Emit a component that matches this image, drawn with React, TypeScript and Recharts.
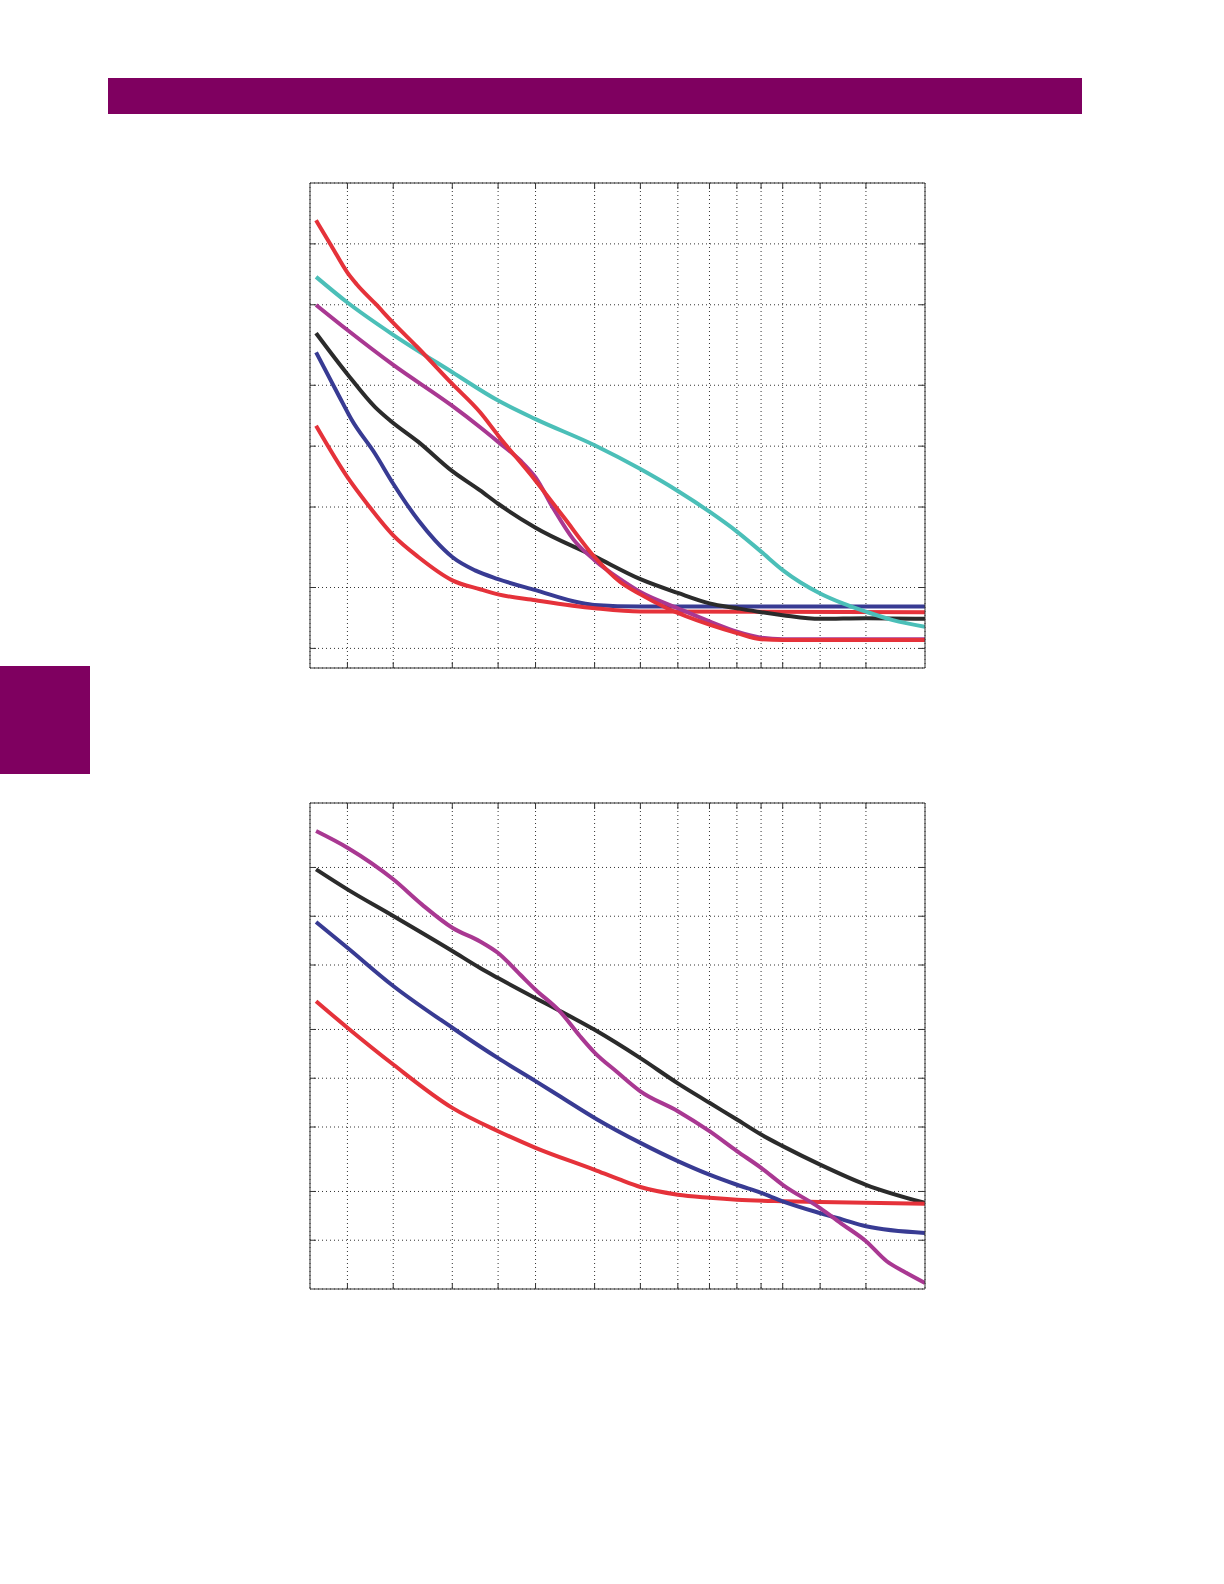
import { LineChart, Line, XAxis, YAxis, CartesianGrid } from 'recharts';

// harmonic-order style log axis shared by both panels
const X_DOMAIN = [1, 20];
const X_TICKS = [1.2, 1.5, 2, 2.5, 3, 4, 5, 6, 7, 8, 9, 10, 12, 15];

const TOP_Y_DOMAIN = [0.8, 200];
const TOP_Y_TICKS = [1, 2, 5, 10, 20, 50, 100];
const BOTTOM_Y_DOMAIN = [0.5, 500];
const BOTTOM_Y_TICKS = [1, 2, 5, 10, 20, 50, 100, 200];

// upper panel
const topBlue = [
  [1.03, 29.1], [1.15, 17.8], [1.225, 13.5], [1.373, 9.17], [1.5, 6.52], [1.695, 4.3], [1.839, 3.42],
  [2, 2.83], [2.234, 2.43], [2.5, 2.2], [3, 1.94], [3.73, 1.68], [4, 1.64], [5, 1.61], [20, 1.61],
];
const topRedLow = [
  [1.03, 12.6], [1.2, 7.02], [1.329, 5.09], [1.5, 3.62], [1.695, 2.83], [2, 2.17], [2.29, 1.96],
  [2.5, 1.85], [3, 1.73], [4, 1.58], [5, 1.52], [20, 1.51],
];
const topBlack = [
  [1.03, 36.2], [1.2, 22.7], [1.373, 15.6], [1.477, 13.4], [1.695, 10.5], [2, 7.52], [2.29, 6.04],
  [2.5, 5.19], [3, 3.95], [4, 2.85], [5, 2.2], [6, 1.88], [7, 1.67], [8, 1.58], [9, 1.51], [10, 1.46],
  [12, 1.4], [15, 1.41], [20, 1.4],
];
const topCyan = [
  [1.03, 68.7], [1.2, 51.3], [1.5, 35.5], [2, 23.2], [2.5, 16.8], [3, 13.6], [4, 10.1], [5, 7.7],
  [6, 6.0], [7, 4.74], [8, 3.78], [9, 3.01], [10, 2.44], [12, 1.87], [13.4, 1.67], [15, 1.52],
  [17.1, 1.38], [20, 1.28],
];
const topMagenta = [
  [1.03, 49.9], [1.2, 37.5], [1.5, 25.2], [2, 15.8], [2.29, 12.4], [2.5, 10.5], [2.786, 8.49],
  [3, 7.0], [3.275, 4.9], [3.61, 3.45], [4, 2.73], [4.53, 2.2], [5, 1.9], [6, 1.58], [7, 1.36],
  [8, 1.21], [9, 1.13], [10, 1.11], [20, 1.11],
];
const topRedHigh = [
  [1.03, 130.8], [1.11, 97.7], [1.2, 72.1], [1.255, 63.2], [1.375, 50.6], [1.5, 40.7], [1.684, 31.0],
  [2, 20.3], [2.29, 14.7], [2.5, 11.3], [3, 6.75], [3.44, 4.46], [4, 2.83], [4.53, 2.13], [5, 1.85],
  [5.69, 1.58], [7, 1.31], [8, 1.19], [9, 1.11], [10, 1.1], [20, 1.1],
];

// lower panel
const bottomBlack = [
  [1.03, 194.5], [1.2, 146.4], [1.5, 100.3], [2, 61], [2.29, 47.9], [2.5, 41.5], [3, 31.2],
  [3.38, 26.0], [4, 19.9], [5, 13.3], [6, 9.3], [7, 7.05], [8, 5.56], [9, 4.49], [10, 3.81],
  [12, 2.93], [15, 2.2], [20, 1.7],
];
const bottomRed = [
  [1.03, 29.9], [1.2, 20.5], [1.5, 12.15], [2, 6.56], [2.5, 4.71], [3, 3.72], [4, 2.72], [4.5, 2.38],
  [5, 2.13], [6, 1.91], [7, 1.83], [8, 1.78], [10, 1.74], [12, 1.72], [20, 1.68],
];
const bottomBlue = [
  [1.03, 92.1], [1.2, 63.9], [1.5, 37.1], [2, 20.5], [2.29, 15.7], [2.5, 13.3], [3, 9.6], [3.41, 7.6],
  [4, 5.69], [5, 3.99], [6, 3.08], [7, 2.54], [8, 2.2], [9, 1.96], [10, 1.74], [12, 1.47],
  [13.4, 1.34], [15, 1.22], [20, 1.11],
];
const bottomMagenta = [
  [1.03, 336], [1.2, 265], [1.5, 169], [1.726, 118], [2, 84.9], [2.29, 69.9], [2.5, 59.3],
  [2.786, 43.5], [3, 35.2], [3.38, 25.8], [3.73, 18.1], [4, 14.4], [4.45, 11.0], [5, 8.3], [6, 6.26],
  [7, 4.71], [8, 3.55], [9, 2.8], [10, 2.2], [12, 1.58], [13.4, 1.25], [15, 0.986], [16.6, 0.742],
  [18, 0.644], [20, 0.545],
];

const RED = '#e5323a';
const BLUE = '#383b93';
const BLACK = '#2b2b2b';
const CYAN = '#4bbfb8';
const MAGENTA = '#a93892';
const PURPLE = '#7f0060';
const AXIS = '#333';

type Series = { rows: number[][]; color: string };

const topSeries: Series[] = [
  { rows: topBlue, color: BLUE },
  { rows: topRedLow, color: RED },
  { rows: topBlack, color: BLACK },
  { rows: topCyan, color: CYAN },
  { rows: topMagenta, color: MAGENTA },
  { rows: topRedHigh, color: RED },
];

const bottomSeries: Series[] = [
  { rows: bottomBlack, color: BLACK },
  { rows: bottomRed, color: RED },
  { rows: bottomBlue, color: BLUE },
  { rows: bottomMagenta, color: MAGENTA },
];

// no tick labels in the figure, only inward tick marks
const NoLabel = () => <g />;

function Panel({
  top,
  height,
  yDomain,
  yTicks,
  series,
}: {
  top: number;
  height: number;
  yDomain: number[];
  yTicks: number[];
  series: Series[];
}) {
  const xProps = {
    type: 'number' as const,
    dataKey: 'x',
    scale: 'log' as const,
    domain: X_DOMAIN,
    ticks: X_TICKS,
    interval: 0,
    allowDataOverflow: true,
    tick: NoLabel,
    tickSize: 6,
    mirror: true,
    stroke: AXIS,
  };
  const yProps = {
    type: 'number' as const,
    scale: 'log' as const,
    domain: yDomain,
    ticks: yTicks,
    interval: 0,
    allowDataOverflow: true,
    tick: NoLabel,
    tickSize: 6,
    mirror: true,
    stroke: AXIS,
  };
  return (
    <div style={{ position: 'absolute', left: 308, top, width: 619, height }}>
      <LineChart width={619} height={height} margin={{ top: 2, right: 2, bottom: 2, left: 2 }}>
        <CartesianGrid stroke={AXIS} strokeDasharray="1 3" />
        <XAxis xAxisId={0} {...xProps} />
        <XAxis xAxisId="top" orientation="top" {...xProps} />
        <YAxis yAxisId={0} {...yProps} />
        <YAxis yAxisId="right" orientation="right" {...yProps} />
        {series.map((s, i) => (
          <Line
            key={i}
            data={s.rows.map(([x, y]) => ({ x, y }))}
            dataKey="y"
            type="monotone"
            stroke={s.color}
            strokeWidth={4}
            dot={false}
            activeDot={false}
            isAnimationActive={false}
          />
        ))}
      </LineChart>
    </div>
  );
}

export default function App() {
  return (
    <div style={{ position: 'absolute', left: 0, top: 0, width: 1224, height: 1584, background: '#fff' }}>
      <div style={{ position: 'absolute', left: 108, top: 78, width: 974, height: 36, background: PURPLE }} />
      <div style={{ position: 'absolute', left: 0, top: 666, width: 90, height: 108, background: PURPLE }} />
      <Panel top={181} height={489} yDomain={TOP_Y_DOMAIN} yTicks={TOP_Y_TICKS} series={topSeries} />
      <Panel top={801} height={490} yDomain={BOTTOM_Y_DOMAIN} yTicks={BOTTOM_Y_TICKS} series={bottomSeries} />
    </div>
  );
}
